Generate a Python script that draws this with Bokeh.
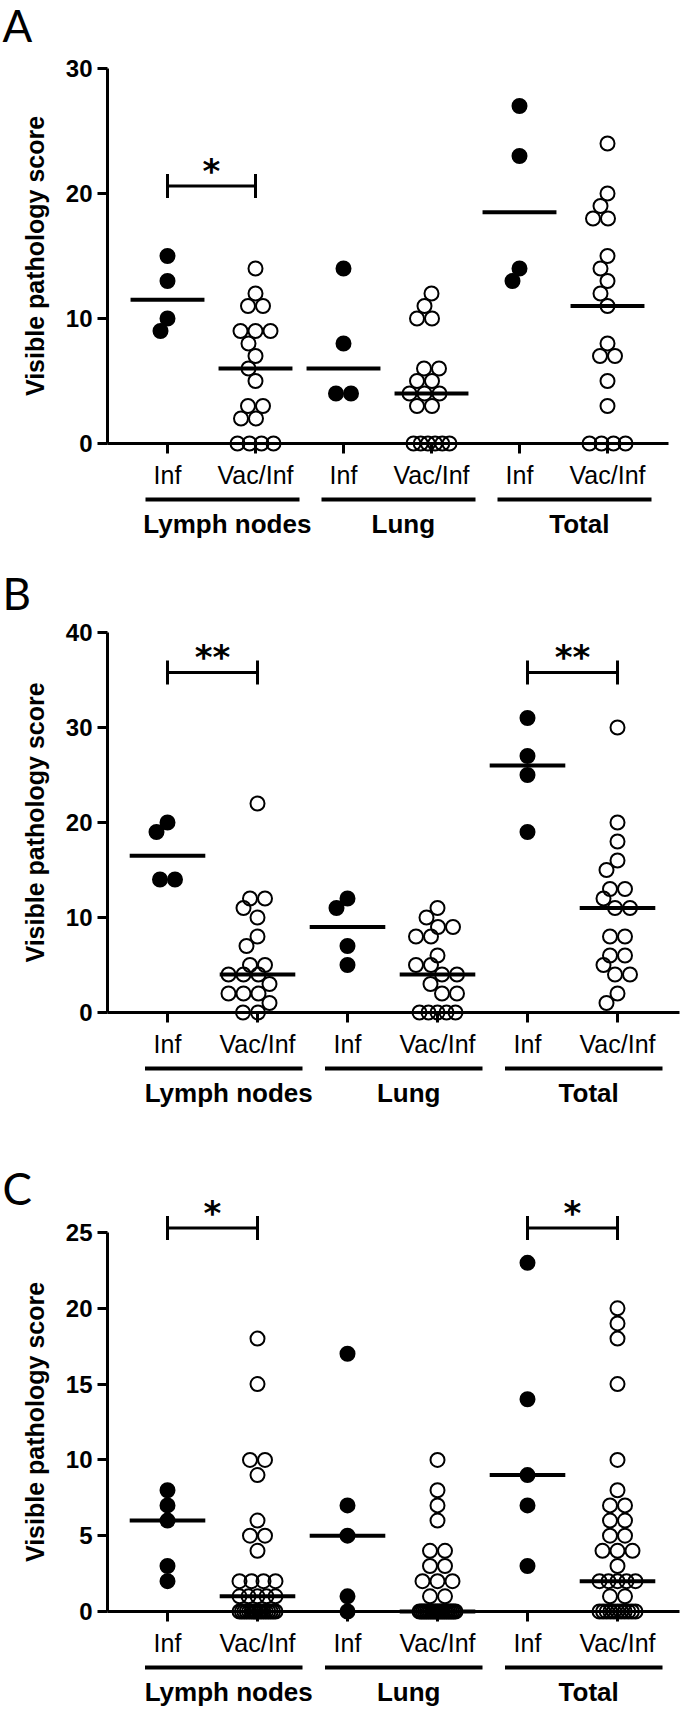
import numpy as np
from bokeh.plotting import figure
from bokeh.models import Range1d, LinearAxis, FixedTicker, ColumnDataSource
from bokeh.layouts import column
from bokeh.core.properties import value
from bokeh.embed import file_html
from bokeh.resources import INLINE

# ---------------- data ----------------
GROUPS = ["Lymph nodes", "Lung", "Total"]
TREATMENTS = ["Inf", "Vac/Inf"]
Y_TITLE = "Visible pathology score"

# Panel A
a_inf_ln = [15, 13, 10, 9]
a_vac_ln = [14, 12, 11, 11, 9, 9, 9, 8, 7, 6, 5, 3, 3, 2, 2, 0, 0, 0, 0]
a_inf_lung = [14, 8, 4, 4]
a_vac_lung = [12, 11, 10, 10, 6, 6, 5, 5, 4, 4, 4, 3, 3, 0, 0, 0, 0, 0, 0]
a_inf_total = [27, 23, 14, 13]
a_vac_total = [24, 20, 19, 18, 18, 15, 14, 13, 12, 11, 8, 7, 7, 5, 3, 0, 0, 0, 0]
a_ticks = [0, 10, 20, 30]
a_sig = {"Lymph nodes": "*"}

# Panel B
b_inf_ln = [20, 19, 14, 14]
b_vac_ln = [22, 12, 12, 11, 10, 8, 7, 5, 5, 4, 4, 4, 3, 2, 2, 2, 1, 0, 0]
b_inf_lung = [12, 11, 7, 5]
b_vac_lung = [11, 10, 9, 9, 8, 8, 6, 5, 5, 4, 4, 3, 2, 2, 0, 0, 0, 0, 0]
b_inf_total = [31, 27, 25, 19]
b_vac_total = [30, 20, 18, 16, 15, 13, 13, 12, 11, 11, 8, 8, 6, 6, 5, 4, 4, 2, 1]
b_ticks = [0, 10, 20, 30, 40]
b_sig = {"Lymph nodes": "**", "Total": "**"}

# Panel C
c_inf_ln = [8, 7, 6, 3, 2]
c_vac_ln = [18, 15, 10, 10, 9, 6, 5, 5, 4, 2, 2, 2, 2, 1, 1, 1, 1, 1,
            0, 0, 0, 0, 0, 0, 0, 0, 0, 0, 0, 0, 0, 0, 0, 0]
c_inf_lung = [17, 7, 5, 1, 0]
c_vac_lung = [10, 8, 7, 6, 4, 4, 3, 3, 2, 2, 2, 1, 1,
              0, 0, 0, 0, 0, 0, 0, 0, 0, 0, 0, 0, 0, 0, 0, 0, 0, 0, 0, 0, 0]
c_inf_total = [23, 14, 9, 7, 3]
c_vac_total = [20, 19, 18, 15, 10, 8, 7, 7, 6, 6, 5, 5, 4, 4, 4, 3, 2, 2, 2, 2, 2, 1, 1,
               0, 0, 0, 0, 0, 0, 0, 0, 0, 0, 0]
c_ticks = [0, 5, 10, 15, 20, 25]
c_sig = {"Lymph nodes": "*", "Total": "*"}

# ---------------- layout (pixels on the page) ----------------
PAGE_L, PAGE_R = 0, 685
CAT1_PX = 167
YAXIS_PX = 107
YTITLE_PX = 34

PANELS = [
    dict(letter="A", letter_mid=24,
         series=[a_inf_ln, a_vac_ln, a_inf_lung, a_vac_lung, a_inf_total, a_vac_total],
         ticks=a_ticks, sig=a_sig, sig_y=20.6,
         y0=443, v=12.5, top=0, bottom=560, u=88.0, xend=668),
    dict(letter="B", letter_mid=592,
         series=[b_inf_ln, b_vac_ln, b_inf_lung, b_vac_lung, b_inf_total, b_vac_total],
         ticks=b_ticks, sig=b_sig, sig_y=35.8,
         y0=1012, v=9.5, top=560, bottom=1120, u=90.0, xend=679),
    dict(letter="C", letter_mid=1187,
         series=[c_inf_ln, c_vac_ln, c_inf_lung, c_vac_lung, c_inf_total, c_vac_total],
         ticks=c_ticks, sig=c_sig, sig_y=25.3,
         y0=1611, v=15.16, top=1120, bottom=1709, u=90.0, xend=679),
]

SANS = "Liberation Sans"


def swarm_offsets(vals, u, v, D=15.0, wmax=18.0):
    """Simple beeswarm: offsets (in category units) so that circles barely overlap."""
    vals = list(vals)
    offs = [0.0] * len(vals)
    placed = []
    Dm = 0.95 * D
    for val in sorted(set(vals), reverse=True):
        idx = [i for i, x in enumerate(vals) if x == val]
        k = len(idx)
        s = D if k == 1 else min(D, 2 * wmax / (k - 1))
        base = [(j - (k - 1) / 2) * s for j in range(k)]
        best, best_cost = None, None
        for c in np.arange(-14, 14.5, 1.0):
            pos = [b + c for b in base]
            cost = 0.0
            for (px, py) in placed:
                for q in pos:
                    d = np.hypot(q - px, val * v - py)
                    if d < Dm:
                        cost += Dm - d
            cost += 0.05 * abs(c)
            if best_cost is None or cost < best_cost - 1e-9:
                best, best_cost = pos, cost
        for j, i in enumerate(idx):
            offs[i] = best[j] / u
            placed.append((best[j], val * v))
    return offs


def make_panel(cfg):
    u, v, y0 = cfg["u"], cfg["v"], cfg["y0"]

    def px2x(px):
        return 1 + (px - CAT1_PX) / u

    def py2y(py):
        return (y0 - py) / v

    H = cfg["bottom"] - cfg["top"]
    p = figure(width=PAGE_R - PAGE_L, height=H,
               x_range=Range1d(px2x(PAGE_L), px2x(PAGE_R)),
               y_range=Range1d(py2y(cfg["bottom"]), py2y(cfg["top"])),
               x_axis_type=None, y_axis_type=None,
               toolbar_location=None, output_backend="svg", min_border=0)
    p.outline_line_color = None
    p.background_fill_color = "white"
    p.border_fill_color = "white"

    ytop = cfg["ticks"][-1]
    positions = [2 * g + 1 + t for g in range(len(GROUPS)) for t in range(len(TREATMENTS))]
    labels = [TREATMENTS[t] for g in range(len(GROUPS)) for t in range(len(TREATMENTS))]

    # y axis
    yaxis = LinearAxis(ticker=FixedTicker(ticks=cfg["ticks"]),
                       fixed_location=px2x(YAXIS_PX), bounds=(0, ytop),
                       axis_line_width=3, axis_line_color="black",
                       major_tick_line_width=3, major_tick_line_color="black",
                       major_tick_out=10, major_tick_in=0,
                       minor_tick_line_color=None,
                       major_label_standoff=5,
                       major_label_text_font=SANS,
                       major_label_text_font_style="bold",
                       major_label_text_font_size="24px",
                       major_label_text_color="black")
    p.add_layout(yaxis, "left")

    # x axis (line at y = 0)
    xaxis = LinearAxis(ticker=FixedTicker(ticks=positions),
                       fixed_location=0, bounds=(px2x(YAXIS_PX), px2x(cfg["xend"])),
                       major_label_overrides={pos: lab for pos, lab in zip(positions, labels)},
                       axis_line_width=3, axis_line_color="black",
                       major_tick_line_width=3, major_tick_line_color="black",
                       major_tick_out=10, major_tick_in=0,
                       minor_tick_line_color=None,
                       major_label_standoff=7,
                       major_label_text_font=SANS,
                       major_label_text_font_size="25px",
                       major_label_text_color="black")
    p.add_layout(xaxis, "below")

    # medians
    meds = [float(np.median(s)) for s in cfg["series"]]
    p.segment(x0=[x - 0.42 for x in positions], x1=[x + 0.42 for x in positions],
              y0=meds, y1=meds, line_color="black", line_width=4)

    # points
    for k, (pos, vals) in enumerate(zip(positions, cfg["series"])):
        offs = swarm_offsets(vals, u, v)
        src = ColumnDataSource(dict(x=[pos + o for o in offs], y=vals))
        if k % 2 == 0:
            p.scatter("x", "y", source=src, marker="circle", size=14,
                      fill_color="black", line_color="black", line_width=2)
        else:
            p.scatter("x", "y", source=src, marker="circle", size=14,
                      fill_color=None, line_color="black", line_width=2)

    # group underlines and labels
    inf_pos = [positions[2 * g] for g in range(len(GROUPS))]
    vac_pos = [positions[2 * g + 1] for g in range(len(GROUPS))]
    yline = py2y(y0 + 56)
    p.segment(x0=[x - 0.25 for x in inf_pos], x1=[x + 0.5 for x in vac_pos],
              y0=[yline] * 3, y1=[yline] * 3, line_color="black", line_width=4)
    p.text(x=[(a + b) / 2 + 0.18 for a, b in zip(inf_pos, vac_pos)],
           y=[py2y(y0 + 80)] * 3, text=GROUPS,
           text_font=value(SANS), text_font_style="bold", text_font_size="26px",
           text_align="center", text_baseline="middle", text_color="black")

    # significance brackets
    sy = cfg["sig_y"]
    half = 12 / v
    for grp, stars in cfg["sig"].items():
        g = GROUPS.index(grp)
        xa, xb = inf_pos[g], vac_pos[g]
        p.segment(x0=[xa, xa, xb], x1=[xb, xa, xb],
                  y0=[sy, sy - half, sy - half], y1=[sy, sy + half, sy + half],
                  line_color="black", line_width=3)
        p.text(x=[(xa + xb) / 2], y=[sy + 15 / v], text=[stars],
               text_font=value("DejaVu Sans"), text_font_style="bold", text_font_size="34px",
               text_align="center", text_baseline="middle", text_color="black")

    # y title
    p.text(x=[px2x(YTITLE_PX)], y=[ytop / 2], text=[Y_TITLE], angle=np.pi / 2,
           text_font=value(SANS), text_font_style="bold", text_font_size="25px",
           text_align="center", text_baseline="middle", text_color="black")

    # panel letter
    p.text(x=[px2x(PAGE_L + 2)], y=[py2y(cfg["letter_mid"])], text=[cfg["letter"]],
           text_font=value("Lato"), text_font_size="44px",
           text_align="left", text_baseline="middle", text_color="black")
    return p


figs = [make_panel(c) for c in PANELS]
layout = column(*figs, spacing=0)
open("out.html", "w").write(file_html(layout, INLINE))
